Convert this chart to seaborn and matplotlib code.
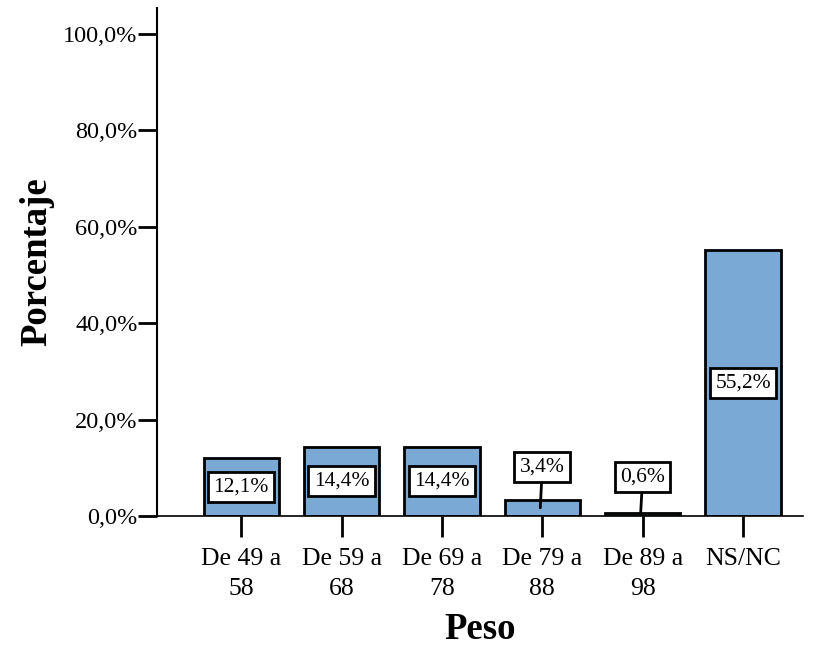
import matplotlib
matplotlib.use("Agg")
import matplotlib.pyplot as plt
import seaborn as sns
import pandas as pd
from matplotlib.ticker import FuncFormatter

categories = ["De 49 a\n58", "De 59 a\n68", "De 69 a\n78", "De 79 a\n88", "De 89 a\n98", "NS/NC"]
values = [12.1, 14.4, 14.4, 3.4, 0.6, 55.2]
labels = ["12,1%", "14,4%", "14,4%", "3,4%", "0,6%", "55,2%"]

sns.set_style("white")
plt.rcParams['font.family'] = ['Liberation Serif', 'DejaVu Serif']
plt.rcParams['text.color'] = 'black'
plt.rcParams['axes.labelcolor'] = 'black'
plt.rcParams['xtick.color'] = 'black'
plt.rcParams['ytick.color'] = 'black'

df = pd.DataFrame({"cat": categories, "val": values})
fig = plt.figure(figsize=(8.13, 6.53), dpi=100)
ax = fig.add_axes([0.193, 0.2098, 0.795, 0.778])
sns.barplot(data=df, x="cat", y="val", ax=ax, color="#7ba9d6", saturation=1,
            edgecolor="black", linewidth=2, width=0.75)

ax.set_ylim(0, 105.4)
ax.set_xlim(-0.84, 5.6)
ax.set_yticks([0, 20, 40, 60, 80, 100])
ax.yaxis.set_major_formatter(FuncFormatter(lambda v, p: f"{v:.1f}%".replace(".", ",")))
for s in ["top", "right"]:
    ax.spines[s].set_visible(False)
ax.spines["left"].set_linewidth(1.5)
ax.spines["left"].set_color("black")
ax.spines["bottom"].set_linewidth(1.2)
ax.spines["bottom"].set_color("black")
ax.tick_params(axis="y", direction="out", length=14, width=2, labelsize=17.5, left=True, pad=0)
ax.tick_params(axis="x", direction="out", length=15, width=2, labelsize=18.5, bottom=True, pad=8)
for t in ax.get_xticklabels():
    t.set_linespacing(1.45)
ax.set_xlabel("Peso", fontsize=26.5, fontweight="bold", labelpad=9)
ax.set_ylabel("Porcentaje", fontsize=26.5, fontweight="bold", labelpad=6)

bbox = dict(boxstyle="square,pad=0.25", facecolor="white", edgecolor="black", linewidth=2)
for i, (v, lab) in enumerate(zip(values, labels)):
    if v >= 8:
        ax.text(i, v / 2, lab, ha="center", va="center", fontsize=15.5, bbox=bbox, zorder=5)
    else:
        ty = 10.2 if v > 2 else 8.1
        ax.annotate(lab, xy=(i - 0.02, v / 2 if v > 2 else v), xytext=(i, ty),
                    ha="center", va="center", fontsize=15.5, bbox=bbox, zorder=5,
                    arrowprops=dict(arrowstyle="-", color="black", lw=2, shrinkA=0, shrinkB=0))

fig.savefig("out.png", dpi=100)
